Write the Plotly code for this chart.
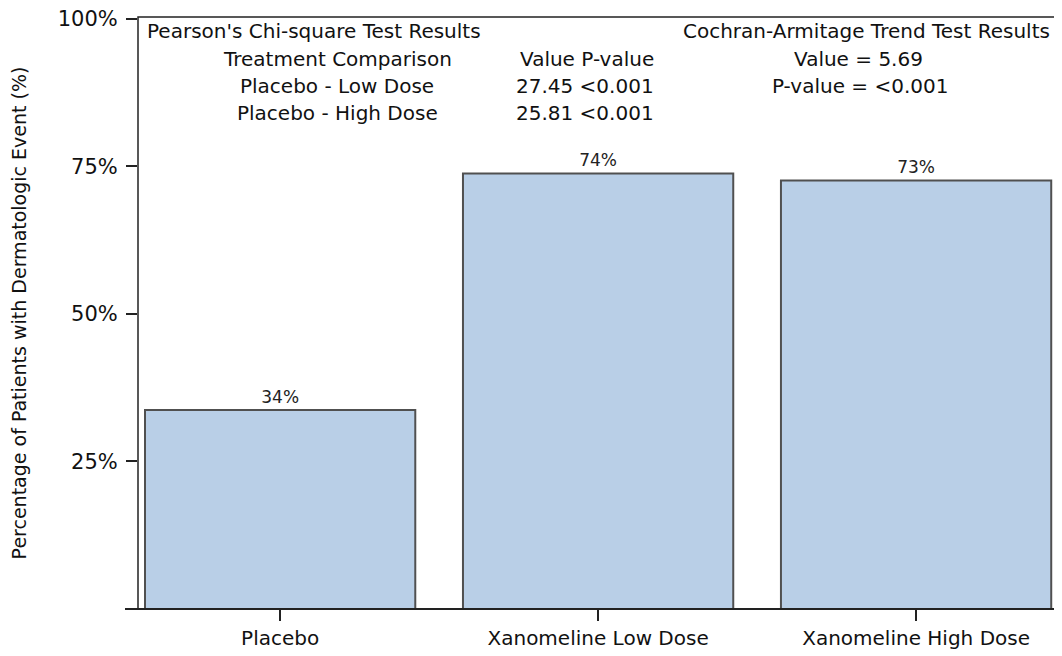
import plotly.graph_objects as go

categories = ["Placebo", "Xanomeline Low Dose", "Xanomeline High Dose"]
pct_values = [33.7, 73.8, 72.6]
bar_labels = ["34%", "74%", "73%"]
y_tick_vals = [25, 50, 75, 100]
y_tick_text = ["25%", "50%", "75%", "100%"]

chi_comparisons = ["Placebo - Low Dose", "Placebo - High Dose"]
chi_values = ["27.45", "25.81"]
chi_pvalues = ["<0.001", "<0.001"]
trend_value = "5.69"
trend_pvalue = "<0.001"

OFF = 8  # page body margin
W, H = 1062 - OFF, 656 - OFF
# screen-pixel positions of plot area
SL, SR, ST, SB = 138, 1056, 17, 609
L, R, T, B = SL - OFF, (W + OFF) - SR, ST - OFF, (H + OFF) - SB
FONT = "DejaVu Sans"

fig = go.Figure()
fig.add_trace(go.Bar(
    x=list(range(len(categories))), y=pct_values,
    width=0.85,
    marker=dict(color="#B9CFE7", line=dict(color="#505050", width=2)),
    text=bar_labels, textposition="outside", cliponaxis=False,
    textfont=dict(family=FONT, size=17, color="#222"),
))

pw = SR - SL
ph = SB - ST
def px(x):
    return (x - SL) / pw
def py(y):
    return 1 - (y - ST) / ph

ann = []
def add(text, x, y, anchor, size=20):
    ann.append(dict(text=text, x=px(x), y=py(y), xref="paper", yref="paper",
                    xanchor=anchor, yanchor="middle", showarrow=False,
                    font=dict(family=FONT, size=size, color="#111")))

add("Pearson's Chi-square Test Results", 145, 31, "left")
add("Treatment Comparison", 337, 59, "center")
add("Value P-value", 656, 59, "right")
for i, (c, v, p) in enumerate(zip(chi_comparisons, chi_values, chi_pvalues)):
    add(c, 337, 86 + 27 * i, "center")
    add(f"{v} {p}", 656, 86 + 27 * i, "right")
add("Cochran-Armitage Trend Test Results", 1052, 31, "right")
add(f"Value = {trend_value}", 858, 59, "center")
add(f"P-value = {trend_pvalue}", 860, 86, "center")

fig.update_layout(
    width=W, height=H,
    margin=dict(l=L, r=R, t=T, b=B, pad=0, autoexpand=False),
    paper_bgcolor="white", plot_bgcolor="white",
    showlegend=False,
    annotations=ann,
    font=dict(family=FONT, color="#111"),
    shapes=[
        dict(type="rect", xref="paper", yref="paper", x0=0, x1=1, y0=0, y1=1,
             line=dict(color="#222", width=1.5), layer="above"),
        dict(type="line", xref="paper", yref="paper", x0=px(125), x1=1, y0=0, y1=0,
             line=dict(color="#222", width=2)),
    ],
)
fig.update_xaxes(
    range=[-0.447, 2.44], automargin=False,
    tickvals=list(range(len(categories))), ticktext=categories,
    ticks="outside", ticklen=11, tickcolor="#222", tickwidth=1.5,
    tickfont=dict(family=FONT, size=20, color="#111"),
    showgrid=False, zeroline=False, showline=False,
)
fig.update_yaxes(
    range=[0, 100.3], automargin=False,
    tickvals=y_tick_vals, ticktext=y_tick_text,
    ticks="outside", ticklen=11, tickcolor="#222", tickwidth=1.5,
    ticklabelstandoff=4, ticklabeloverflow="allow",
    tickfont=dict(family=FONT, size=21, color="#111"),
    showgrid=False, zeroline=False, showline=False,
    title=dict(text="Percentage of Patients with Dermatologic Event (%)",
               font=dict(family=FONT, size=19, color="#111"), standoff=38),
)

fig.write_html("out.html")
